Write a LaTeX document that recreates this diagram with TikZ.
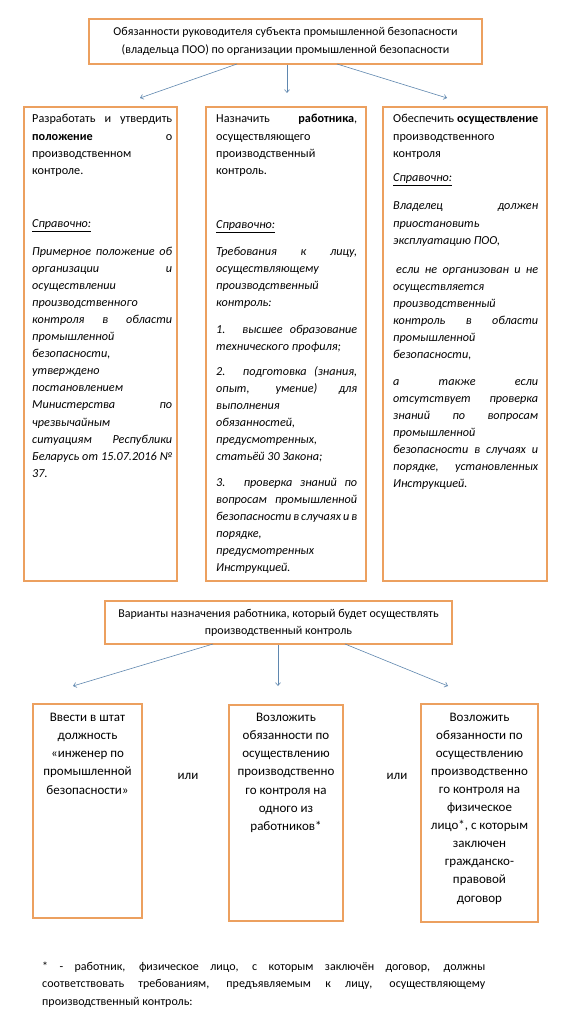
\documentclass[tikz,border=0pt]{standalone}
\usepackage{fontspec}
\setmainfont{Carlito}
\usetikzlibrary{arrows.meta,calc}
\definecolor{boxorange}{RGB}{236,160,95}
\definecolor{arrowblue}{RGB}{95,135,175}
\newcommand{\jl}[1]{\makebox[\linewidth][s]{#1}}
\newcommand{\spr}{\underline{\textit{Справочно:}}}
\tikzset{
  obox/.style={draw=boxorange, line width=2.2pt, fill=white, inner sep=0pt},
  arr/.style={draw=arrowblue, line width=0.6pt, -{Straight Barb[length=3pt,width=5pt]}},
  para/.style={anchor=base west, inner sep=0pt, font=\fontsize{12.2}{17.1}\selectfont},
  ctext/.style={anchor=base, inner sep=0pt},
}
\begin{document}
\begin{tikzpicture}[x=1pt,y=-1pt]
\useasboundingbox (0,0) rectangle (572,1024);
\fill[white] (0,0) rectangle (572,1024);

% top title
\node[obox, minimum width=393pt, minimum height=45pt, align=center,
      font=\fontsize{12}{18}\selectfont] (top) at (285.5,41.5)
  {Обязанности руководителя субъекта промышленной безопасности\\(владельца ПОО) по организации промышленной безопасности};

% three columns
\node[obox, minimum width=153pt, minimum height=474pt] (c1) at (100.5,344) {};
\node[obox, minimum width=160pt, minimum height=474pt] (c2) at (286,344) {};
\node[obox, minimum width=164pt, minimum height=474pt] (c3) at (465,344) {};

\coordinate (t1) at (237,64); \coordinate (e1) at (140,98);
\coordinate (t3) at (337,64); \coordinate (e3) at (447,98);
\coordinate (e2) at (287,93);
\draw[arr] (t1) -- (e1);
\draw[arr] (top.south -| e2) -- (e2);
\draw[arr] (t3) -- (e3);

% column 1 text
\node[para] (l1a) at (32,123) {\parbox[t]{140pt}{%
\jl{Разработать и утвердить}\\
\jl{\textbf{положение} о}\\
производственном\\
контроле.}};
\node[para] (l1b) at (32,228) {\parbox[t]{140pt}{\spr}};
\node[para] (l1c) at (32,255) {\parbox[t]{140pt}{\itshape
\jl{Примерное положение об}\\
\jl{организации и}\\
осуществлении\\
производственного\\
\jl{контроля в области}\\
промышленной\\
безопасности,\\
утверждено\\
постановлением\\
\jl{Министерства по}\\
чрезвычайным\\
\jl{ситуациям Республики}\\
\jl{Беларусь от 15.07.2016 №}\\
37.}};

% column 2 text
\node[para] (l2a) at (216,123) {\parbox[t]{141pt}{%
\jl{Назначить \textbf{работника},}\\
осуществляющего\\
производственный\\
контроль.}};
\node[para] (l2b) at (216,229) {\parbox[t]{141pt}{\spr}};
\node[para] (l2c) at (216,255) {\parbox[t]{141pt}{\itshape
\jl{Требования к лицу,}\\
осуществляющему\\
производственный\\
контроль:}};
\node[para] (l2d) at (216,333) {\parbox[t]{141pt}{\itshape
\jl{1. высшее образование}\\
технического профиля;}};
\node[para] (l2e) at (216,375) {\parbox[t]{141pt}{\itshape
\jl{2. подготовка (знания,}\\
\jl{опыт, умение) для}\\
выполнения\\
обязанностей,\\
предусмотренных,\\
статьёй 30 Закона;}};
\node[para] (l2f) at (216,486) {\parbox[t]{141pt}{\itshape
\jl{3. проверка знаний по}\\
\jl{вопросам промышленной}\\
\jl{безопасности в случаях и в}\\
порядке,\\
предусмотренных\\
Инструкцией.}};

% column 3 text
\node[para] (l3a) at (393,123) {\parbox[t]{145pt}{%
\jl{Обеспечить \textbf{осуществление}}\\
производственного\\
контроля}};
\node[para] (l3b) at (393,182) {\parbox[t]{145pt}{\spr}};
\node[para] (l3c) at (393,210) {\parbox[t]{145pt}{\itshape
\jl{Владелец должен}\\
приостановить\\
эксплуатацию ПОО,}};
\node[para] (l3d) at (393,273) {\parbox[t]{145pt}{\itshape
\jl{\hspace*{3pt}если не организован и не}\\
осуществляется\\
производственный\\
\jl{контроль в области}\\
промышленной\\
безопасности,}};
\node[para] (l3e) at (393,385) {\parbox[t]{145pt}{\itshape
\jl{а также если}\\
\jl{отсутствует проверка}\\
\jl{знаний по вопросам}\\
промышленной\\
\jl{безопасности в случаях и}\\
\jl{порядке, установленных}\\
Инструкцией.}};

% second title
\node[obox, minimum width=347pt, minimum height=43pt, align=center,
      font=\fontsize{12}{17}\selectfont] (var) at (278.5,622.5)
  {Варианты назначения работника, который будет осуществлять\\производственный контроль};

% bottom boxes
\node[obox, minimum width=109pt, minimum height=214pt] (b1) at (87.5,811) {};
\node[obox, minimum width=114pt, minimum height=216pt] (b2) at (286,813) {};
\node[obox, minimum width=117pt, minimum height=218pt] (b3) at (479.5,813) {};

\coordinate (s1) at (213,644); \coordinate (f1) at (73,686);
\coordinate (s3) at (345,644); \coordinate (f3) at (448,686);
\coordinate (f2) at (278,686);
\draw[arr] (s1) -- (f1);
\draw[arr] (var.south -| f2) -- (f2);
\draw[arr] (s3) -- (f3);

\node[ctext] (b1t) at (87.5,721) {\parbox[t]{105pt}{\centering\fontsize{13}{18.3}\selectfont
Ввести в штат\\ должность\\ «инженер по\\ промышленной\\ безопасности»}};
\node[ctext] (b2t) at (286,721) {\parbox[t]{112pt}{\centering\fontsize{13}{18.3}\selectfont
Возложить\\ обязанности по\\ осуществлению\\ производственно\\ го контроля на\\ одного из\\ работников*}};
\node[ctext] (b3t) at (479.5,721) {\parbox[t]{115pt}{\centering\fontsize{13}{18.1}\selectfont
Возложить\\ обязанности по\\ осуществлению\\ производственно\\ го контроля на\\ физическое\\ лицо*, с которым\\ заключен\\ гражданско-\\ правовой\\ договор}};

\node[ctext, font=\fontsize{13}{15}\selectfont] (or1) at (188,779) {или};
\node[ctext, font=\fontsize{13}{15}\selectfont] (or2) at (397,779) {или};

% footnote
\node[para] (fn) at (42,970) {\parbox[t]{443pt}{\fontsize{12}{17.5}\selectfont
\jl{* - работник, физическое лицо, с которым заключён договор, должны}\\
\jl{соответствовать требованиям, предъявляемым к лицу, осуществляющему}\\
производственный контроль:}};
\end{tikzpicture}
\end{document}
